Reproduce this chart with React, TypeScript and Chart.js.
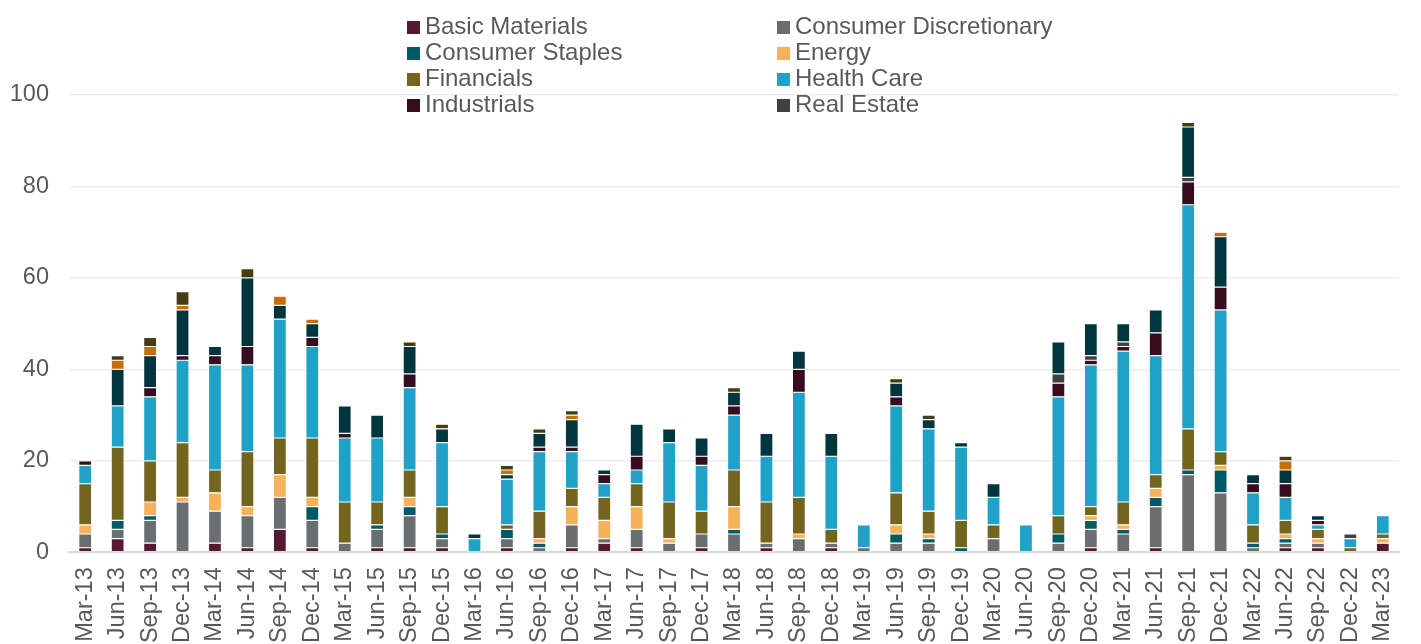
import React, { useEffect, useRef } from "react";
import { Chart, registerables } from "chart.js";

Chart.register(...registerables);

const quarters = [
  "Mar-13", "Jun-13", "Sep-13", "Dec-13", "Mar-14", "Jun-14", "Sep-14", "Dec-14",
  "Mar-15", "Jun-15", "Sep-15", "Dec-15", "Mar-16", "Jun-16", "Sep-16", "Dec-16",
  "Mar-17", "Jun-17", "Sep-17", "Dec-17", "Mar-18", "Jun-18", "Sep-18", "Dec-18",
  "Mar-19", "Jun-19", "Sep-19", "Dec-19", "Mar-20", "Jun-20", "Sep-20", "Dec-20",
  "Mar-21", "Jun-21", "Sep-21", "Dec-21", "Mar-22", "Jun-22", "Sep-22", "Dec-22",
  "Mar-23",
];

const basicMaterials = [1, 3, 2, 0, 2, 1, 5, 1, 0, 1, 1, 1, 0, 1, 0, 1, 2, 1, 0, 1, 0, 1, 0, 1, 0, 0, 0, 0, 0, 0, 0, 1, 0, 1, 0, 0, 0, 1, 1, 0, 2];
const consumerDiscretionary = [3, 2, 5, 11, 7, 7, 7, 6, 2, 4, 7, 2, 0, 2, 1, 5, 1, 4, 2, 3, 4, 1, 3, 1, 1, 2, 2, 0, 3, 0, 2, 4, 4, 9, 17, 13, 1, 1, 1, 0, 0];
const consumerStaples = [0, 2, 1, 0, 0, 0, 0, 3, 0, 1, 2, 1, 0, 2, 1, 0, 0, 0, 0, 0, 1, 0, 0, 0, 0, 2, 1, 1, 0, 0, 2, 2, 1, 2, 1, 5, 1, 1, 0, 0, 0];
const energy = [2, 0, 3, 1, 4, 2, 5, 2, 0, 0, 2, 0, 0, 0, 1, 4, 4, 5, 1, 0, 5, 0, 1, 0, 0, 2, 1, 0, 0, 0, 0, 1, 1, 2, 0, 1, 0, 1, 1, 0, 1];
const financials = [9, 16, 9, 12, 5, 12, 8, 13, 9, 5, 6, 6, 0, 1, 6, 4, 5, 5, 8, 5, 8, 9, 8, 3, 0, 7, 5, 6, 3, 0, 4, 2, 5, 3, 9, 3, 4, 3, 2, 1, 1];
const healthCare = [4, 9, 14, 18, 23, 19, 26, 20, 14, 14, 18, 14, 3, 10, 13, 8, 3, 3, 13, 10, 12, 10, 23, 16, 5, 19, 18, 16, 6, 6, 26, 31, 33, 26, 49, 31, 7, 5, 1, 2, 4];
const industrials = [1, 0, 2, 1, 2, 4, 0, 2, 1, 0, 3, 0, 0, 0, 1, 1, 2, 3, 0, 2, 2, 0, 5, 0, 0, 2, 0, 0, 0, 0, 3, 1, 1, 5, 5, 5, 2, 3, 1, 0, 0];
const realEstate = [0, 0, 0, 0, 0, 0, 0, 0, 0, 0, 0, 0, 0, 0, 0, 0, 0, 0, 0, 0, 0, 0, 0, 0, 0, 0, 0, 0, 0, 0, 2, 1, 1, 0, 1, 0, 0, 0, 0, 1, 0];
const technology = [0, 8, 7, 10, 2, 15, 3, 3, 6, 5, 6, 3, 1, 1, 3, 6, 1, 7, 3, 4, 3, 5, 4, 5, 0, 3, 2, 1, 3, 0, 7, 7, 4, 5, 11, 11, 2, 3, 1, 0, 0];
const telecommunications = [0, 2, 2, 1, 0, 0, 2, 1, 0, 0, 0, 0, 0, 1, 0, 1, 0, 0, 0, 0, 0, 0, 0, 0, 0, 0, 0, 0, 0, 0, 0, 0, 0, 0, 0, 1, 0, 2, 0, 0, 0];
const utilities = [0, 1, 2, 3, 0, 2, 0, 0, 0, 0, 1, 1, 0, 1, 1, 1, 0, 0, 0, 0, 1, 0, 0, 0, 0, 1, 1, 0, 0, 0, 0, 0, 0, 0, 1, 0, 0, 1, 0, 0, 0];

const yTicks = [0, 20, 40, 60, 80, 100];

const series = [
  { label: "Basic Materials", data: basicMaterials, color: "#561833", legend: true },
  { label: "Consumer Discretionary", data: consumerDiscretionary, color: "#6b6e70", legend: true },
  { label: "Consumer Staples", data: consumerStaples, color: "#015a66", legend: true },
  { label: "Energy", data: energy, color: "#f6b15b", legend: true },
  { label: "Financials", data: financials, color: "#73641f", legend: true },
  { label: "Health Care", data: healthCare, color: "#1fa1c8", legend: true },
  { label: "Industrials", data: industrials, color: "#360d1e", legend: true },
  { label: "Real Estate", data: realEstate, color: "#404040", legend: true },
  { label: "Technology", data: technology, color: "#01363f", legend: false },
  { label: "Telecommunications", data: telecommunications, color: "#c66f0c", legend: false },
  { label: "Utilities", data: utilities, color: "#463c12", legend: false },
];

const FONT = "'Liberation Sans', Arial, Helvetica, sans-serif";
const TEXT = "#595959";
const CANVAS_W = 1426;
const CANVAS_H = 644;
const PLOT_LEFT = 69;
const PLOT_TOP = 95;
const PLOT_BOTTOM = 552.3;

export default function App() {
  const ref = useRef<HTMLCanvasElement | null>(null);

  useEffect(() => {
    if (!ref.current) return;
    const chart = new Chart(ref.current, {
      type: "bar",
      data: {
        labels: quarters,
        datasets: series.map((s) => ({
          label: s.label,
          data: s.data.map((v) => (v === 0 ? null : v)),
          backgroundColor: s.color,
          borderColor: "rgba(255,255,255,0.45)",
          borderWidth: 0.6,
          borderSkipped: false,
          categoryPercentage: 1,
          barPercentage: 0.4,
        })),
      },
      options: {
        responsive: false,
        animation: false,
        devicePixelRatio: 1,
        layout: { padding: { top: PLOT_TOP, left: 0, right: 0, bottom: 0 } },
        plugins: {
          legend: { display: false },
          tooltip: { enabled: false },
        },
        scales: {
          x: {
            stacked: true,
            grid: { display: false, drawTicks: false },
            border: { display: true, color: "#d9d9d9", width: 2 },
            ticks: {
              autoSkip: false,
              minRotation: 90,
              maxRotation: 90,
              padding: 15,
              color: TEXT,
              font: { family: FONT, size: 23.5 },
            },
            afterFit: (scale: any) => {
              scale.height = CANVAS_H - PLOT_BOTTOM;
            },
          },
          y: {
            stacked: true,
            min: 0,
            max: 100,
            afterBuildTicks: (scale: any) => {
              scale.ticks = yTicks.map((v) => ({ value: v }));
            },
            grid: { color: "#ededed", lineWidth: 1.5, drawTicks: false },
            border: { display: false },
            ticks: {
              padding: 20,
              color: TEXT,
              font: { family: FONT, size: 23.5 },
            },
            afterFit: (scale: any) => {
              scale.width = PLOT_LEFT;
            },
          },
        },
      },
    });
    return () => chart.destroy();
  }, []);

  const legendItems = series.filter((s) => s.legend);

  return (
    <div
      style={{
        position: "fixed",
        left: 0,
        top: 0,
        width: 1421,
        height: 644,
        overflow: "hidden",
        background: "#ffffff",
      }}
    >
      <canvas
        ref={ref}
        width={CANVAS_W}
        height={CANVAS_H}
        style={{ position: "absolute", left: 0, top: 0, width: CANVAS_W, height: CANVAS_H }}
      />
      {legendItems.map((s, i) => {
        const row = Math.floor(i / 2);
        const col = i % 2;
        const left = col === 0 ? 407 : 777;
        const top = 12.7 + row * 26;
        return (
          <div
            key={s.label}
            style={{
              position: "absolute",
              left,
              top,
              height: 26,
              whiteSpace: "nowrap",
              fontFamily: FONT,
              fontSize: 24,
              lineHeight: "26px",
              color: TEXT,
            }}
          >
            <span
              style={{
                position: "absolute",
                left: 0,
                top: 8,
                width: 13,
                height: 13,
                background: s.color,
              }}
            />
            <span style={{ position: "absolute", left: 18, top: 0 }}>{s.label}</span>
          </div>
        );
      })}
    </div>
  );
}
